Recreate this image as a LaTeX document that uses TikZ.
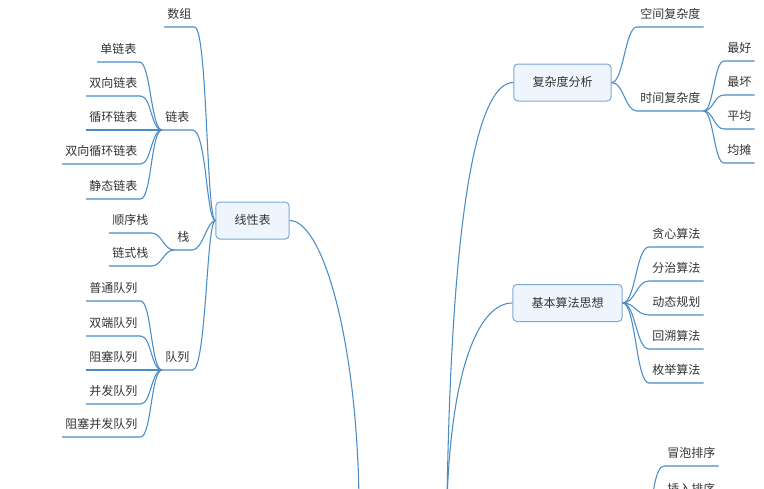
\documentclass[tikz,border=0pt]{standalone}
\usepackage{fontspec}
\newfontfamily\cjk{Noto Sans CJK SC}
\usepackage{tikz}
\usetikzlibrary{positioning}
\definecolor{linkblue}{HTML}{4A8CC6}
\definecolor{boxedge}{HTML}{7DA9D8}
\definecolor{boxfill}{HTML}{EFF5FC}
\definecolor{textgray}{HTML}{333333}

\begin{document}
\begin{tikzpicture}[x=0.75pt, y=-0.75pt,
    every node/.style={font=\cjk\fontsize{9}{11}\selectfont, text=textgray, text height=7.5pt, text depth=1.5pt},
    topicbox/.style={draw=boxedge, fill=boxfill, rounded corners=3pt, line width=0.75pt, inner xsep=14pt, minimum height=27.75pt},
    leaf/.style={anchor=south west, inner xsep=2.25pt, inner ysep=4.8pt},
    branch/.style={draw=linkblue, line width=0.8pt}]
    \useasboundingbox (0,0) rectangle (764,489);
    \clip (0,0) rectangle (764,489);

    % main topics
    \node[topicbox] (xxb) at (252.5,220.5) {线性表};
    \node[topicbox] (fzdfx) at (562.5,82.5) {复杂度分析};
    \node[topicbox] (jbsf) at (567.5,303) {基本算法思想};
    \coordinate (rootL) at (359,500);
    \coordinate (rootR) at (447,500);
    \coordinate (paixu) at (640,600);

    % left side
    \node[leaf] (shuzu) at (164,27) {数组};
    \node[leaf] (lianbiao) at (162,130) {链表};
    \node[leaf] (dlb) at (97,62) {单链表};
    \node[leaf] (sxlb) at (86,96) {双向链表};
    \node[leaf] (xhlb) at (86,130) {循环链表};
    \node[leaf] (sxxhlb) at (62,164) {双向循环链表};
    \node[leaf] (jtlb) at (86,199) {静态链表};
    \node[leaf] (zhan) at (174,250) {栈};
    \node[leaf] (sxz) at (109,233) {顺序栈};
    \node[leaf] (lsz) at (109,266) {链式栈};
    \node[leaf] (duilie) at (162,370) {队列};
    \node[leaf] (ptdl) at (86,301) {普通队列};
    \node[leaf] (sddl) at (86,336) {双端队列};
    \node[leaf] (zsdl) at (86,370) {阻塞队列};
    \node[leaf] (bfdl) at (86,404) {并发队列};
    \node[leaf] (zsbfdl) at (62,437) {阻塞并发队列};

    % right side
    \node[leaf] (kjfzd) at (637,27) {空间复杂度};
    \node[leaf] (sjfzd) at (637,111) {时间复杂度};
    \node[leaf] (zuihao) at (724,61) {最好};
    \node[leaf] (zuihuai) at (724,95) {最坏};
    \node[leaf] (pingjun) at (724,129) {平均};
    \node[leaf] (juntan) at (724,163) {均摊};
    \node[leaf] (tanxin) at (649,247) {贪心算法};
    \node[leaf] (fenzhi) at (649,281) {分治算法};
    \node[leaf] (dongtai) at (649,315) {动态规划};
    \node[leaf] (huisu) at (649,349) {回溯算法};
    \node[leaf] (meiju) at (649,383) {枚举算法};
    \node[leaf] (maopao) at (664,466) {冒泡排序};
    \node[leaf] (charu) at (664,502) {插入排序};

    % to the root below
    \draw[branch] (xxb.east) .. controls +(33,0) and +(-2,-160) .. (rootL);
    \draw[branch] (fzdfx.west) .. controls +(-33,0) and +(5,-310) .. (rootR);
    \draw[branch] (jbsf.west) .. controls +(-31,0) and +(5,-140) .. (rootR);

    % branches of 线性表
    \draw[branch] (shuzu.south west) -- (shuzu.south east) .. controls +(13,0) and +(-9,0) .. (xxb.west);
    \draw[branch] (lianbiao.south west) -- (lianbiao.south east) .. controls +(14,0) and +(-9,0) .. (xxb.west);
    \draw[branch] (zhan.south west) -- (zhan.south east) .. controls +(10,0) and +(-8,0) .. (xxb.west);
    \draw[branch] (duilie.south west) -- (duilie.south east) .. controls +(14,0) and +(-9,0) .. (xxb.west);

    \draw[branch] (dlb.south west) -- (dlb.south east) .. controls +(11,0) and +(-11,0) .. (lianbiao.south west);
    \draw[branch] (sxlb.south west) -- (sxlb.south east) .. controls +(11,0) and +(-11,0) .. (lianbiao.south west);
    \draw[branch] (xhlb.south west) -- (xhlb.south east) -- (lianbiao.south west);
    \draw[branch] (sxxhlb.south west) -- (sxxhlb.south east) .. controls +(11,0) and +(-11,0) .. (lianbiao.south west);
    \draw[branch] (jtlb.south west) -- (jtlb.south east) .. controls +(11,0) and +(-11,0) .. (lianbiao.south west);

    \draw[branch] (sxz.south west) -- (sxz.south east) .. controls +(10,0) and +(-10,0) .. (zhan.south west);
    \draw[branch] (lsz.south west) -- (lsz.south east) .. controls +(10,0) and +(-10,0) .. (zhan.south west);

    \draw[branch] (ptdl.south west) -- (ptdl.south east) .. controls +(11,0) and +(-11,0) .. (duilie.south west);
    \draw[branch] (sddl.south west) -- (sddl.south east) .. controls +(11,0) and +(-11,0) .. (duilie.south west);
    \draw[branch] (zsdl.south west) -- (zsdl.south east) -- (duilie.south west);
    \draw[branch] (bfdl.south west) -- (bfdl.south east) .. controls +(11,0) and +(-11,0) .. (duilie.south west);
    \draw[branch] (zsbfdl.south west) -- (zsbfdl.south east) .. controls +(11,0) and +(-11,0) .. (duilie.south west);

    % branches of 复杂度分析
    \draw[branch] (fzdfx.east) .. controls +(12,0) and +(-12,0) .. (kjfzd.south west) -- (kjfzd.south east);
    \draw[branch] (fzdfx.east) .. controls +(12,0) and +(-12,0) .. (sjfzd.south west) -- (sjfzd.south east);
    \draw[branch] (sjfzd.south east) .. controls +(10,0) and +(-10,0) .. (zuihao.south west) -- (zuihao.south east);
    \draw[branch] (sjfzd.south east) .. controls +(10,0) and +(-10,0) .. (zuihuai.south west) -- (zuihuai.south east);
    \draw[branch] (sjfzd.south east) .. controls +(10,0) and +(-10,0) .. (pingjun.south west) -- (pingjun.south east);
    \draw[branch] (sjfzd.south east) .. controls +(10,0) and +(-10,0) .. (juntan.south west) -- (juntan.south east);

    % branches of 基本算法思想
    \draw[branch] (jbsf.east) .. controls +(13,0) and +(-13,0) .. (tanxin.south west) -- (tanxin.south east);
    \draw[branch] (jbsf.east) .. controls +(13,0) and +(-13,0) .. (fenzhi.south west) -- (fenzhi.south east);
    \draw[branch] (jbsf.east) .. controls +(13,0) and +(-13,0) .. (dongtai.south west) -- (dongtai.south east);
    \draw[branch] (jbsf.east) .. controls +(13,0) and +(-13,0) .. (huisu.south west) -- (huisu.south east);
    \draw[branch] (jbsf.east) .. controls +(13,0) and +(-13,0) .. (meiju.south west) -- (meiju.south east);

    % sorting, cut off below
    \draw[branch] (paixu) .. controls +(10,0) and +(-18,0) .. (maopao.south west) -- (maopao.south east);
    \draw[branch] (paixu) .. controls +(10,0) and +(-18,0) .. (charu.south west) -- (charu.south east);
\end{tikzpicture}
\end{document}
